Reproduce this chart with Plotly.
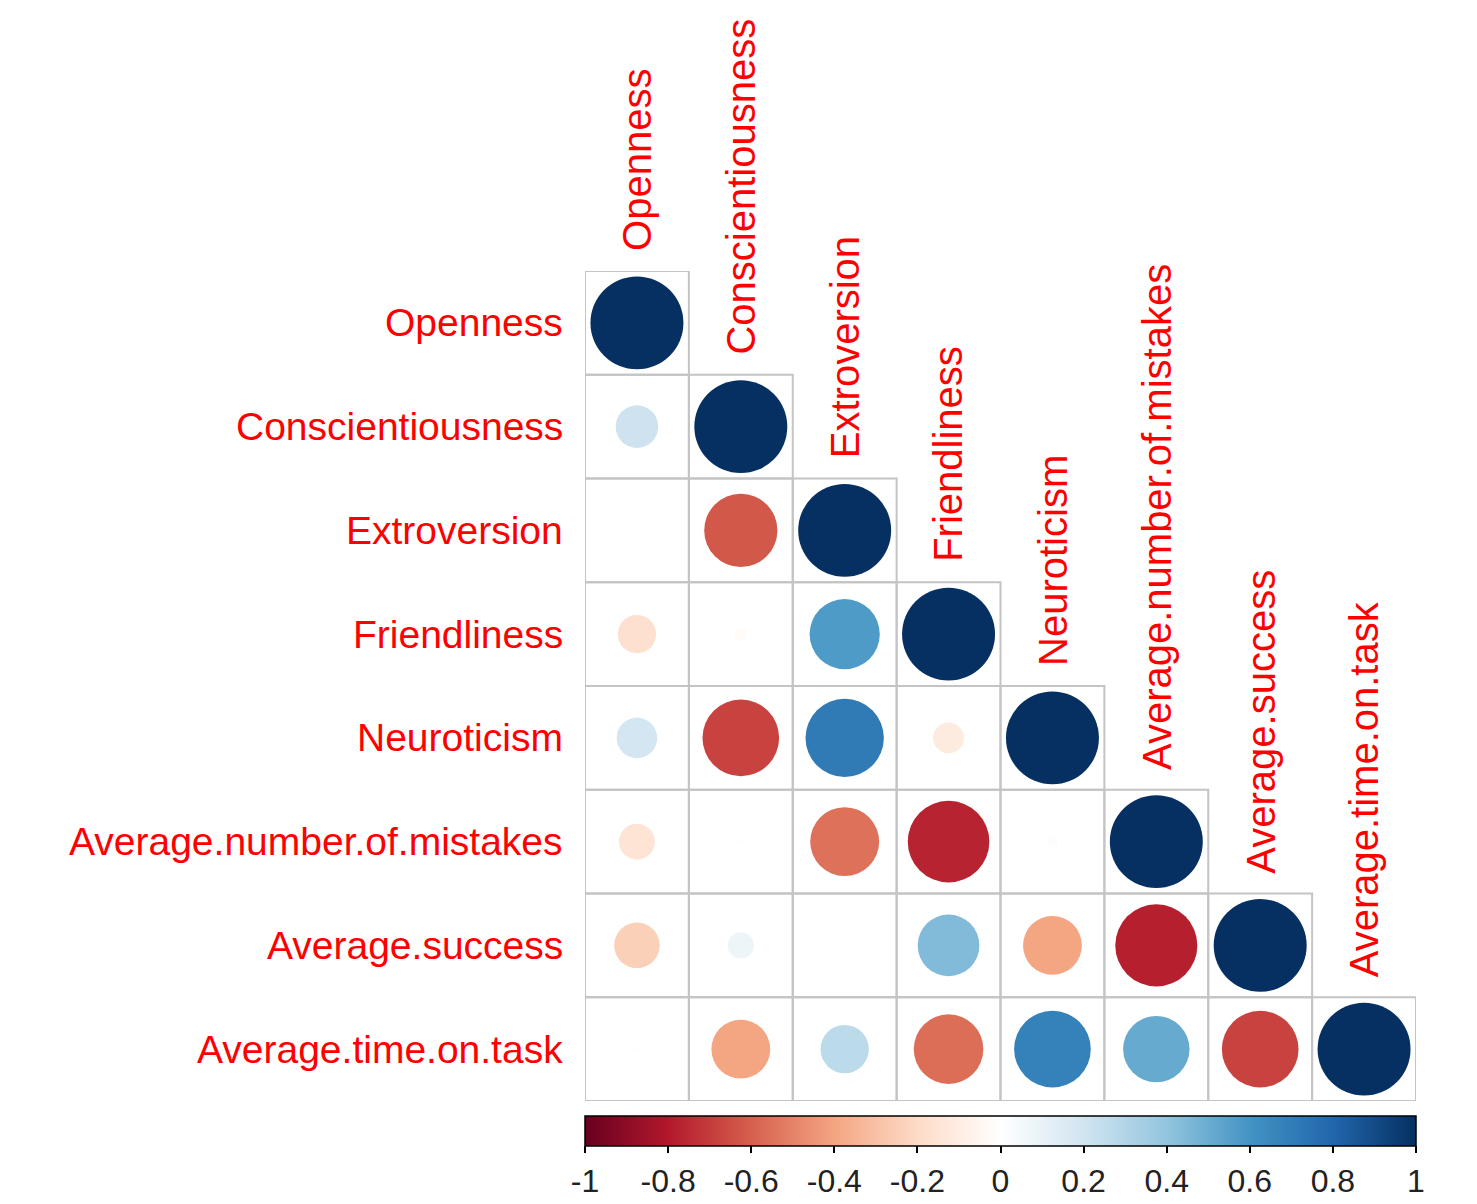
import plotly.graph_objects as go
import math

variables = ["Openness", "Conscientiousness", "Extroversion", "Friendliness",
             "Neuroticism", "Average.number.of.mistakes", "Average.success",
             "Average.time.on.task"]

# lower-triangle correlation values (row i, columns 0..i)
row_openness = [1.0]
row_conscientiousness = [0.21, 1.0]
row_extroversion = [-0.004, -0.62, 1.0]
row_friendliness = [-0.17, -0.02, 0.57, 1.0]
row_neuroticism = [0.19, -0.68, 0.71, -0.11, 1.0]
row_mistakes = [-0.15, -0.006, -0.55, -0.77, 0.016, 1.0]
row_success = [-0.24, 0.08, 0.003, 0.44, -0.40, -0.78, 1.0]
row_time = [-0.008, -0.40, 0.27, -0.56, 0.68, 0.51, -0.68, 1.0]
lower = [row_openness, row_conscientiousness, row_extroversion, row_friendliness,
         row_neuroticism, row_mistakes, row_success, row_time]

colorbar_ticks = [-1, -0.8, -0.6, -0.4, -0.2, 0, 0.2, 0.4, 0.6, 0.8, 1]
colorbar_ticktext = ["-1", "-0.8", "-0.6", "-0.4", "-0.2", "0", "0.2", "0.4", "0.6", "0.8", "1"]

rdbu = ["#67001F", "#B2182B", "#D6604D", "#F4A582", "#FDDBC7", "#FFFFFF",
        "#D1E5F0", "#92C5DE", "#4393C3", "#2166AC", "#053061"]
colorscale = [[i / (len(rdbu) - 1), c] for i, c in enumerate(rdbu)]

n = len(variables)
W, H = 1477, 1204
ml, mr, mt, mb = 585, 61, 271, 103
cell_px = (W - ml - mr) / n
max_diam = cell_px * 0.895

xs, ys, vals, sizes = [], [], [], []
for i, row in enumerate(lower):
    for j, v in enumerate(row):
        xs.append(j + 1)
        ys.append(i + 1)
        vals.append(v)
        sizes.append(max_diam * math.sqrt(abs(v)))

fig = go.Figure()

shapes = []
for i, row in enumerate(lower):
    for j, _ in enumerate(row):
        shapes.append(dict(type="rect", xref="x", yref="y",
                           x0=j + 0.5, x1=j + 1.5, y0=i + 0.5, y1=i + 1.5,
                           line=dict(color="#C4C4C4", width=2),
                           fillcolor="rgba(0,0,0,0)", layer="below"))

fig.add_trace(go.Scatter(
    x=xs, y=ys, mode="markers",
    marker=dict(size=sizes, color=vals, colorscale=colorscale, cmin=-1, cmax=1,
                line=dict(width=0), opacity=1,
                showscale=True,
                colorbar=dict(orientation="h", x=0.5, xanchor="center",
                              y=-15 / (H - mt - mb), yanchor="top",
                              len=1, lenmode="fraction", thickness=30,
                              outlinecolor="black", outlinewidth=1.5,
                              ticks="outside", ticklen=7, tickcolor="black",
                              tickwidth=2,
                              tickvals=colorbar_ticks, ticktext=colorbar_ticktext,
                              tickfont=dict(size=32, color="#222222",
                                            family="Liberation Sans, Arial"),
                              xpad=0, ypad=0)),
    hoverinfo="skip", showlegend=False))

annotations = []
for i, name in enumerate(variables):
    annotations.append(dict(x=0.5, y=i + 1, xref="x", yref="y", text=name,
                            showarrow=False, xanchor="right", yanchor="middle",
                            xshift=-20,
                            font=dict(size=39, color="#FF0000",
                                      family="Liberation Sans, Arial")))
    annotations.append(dict(x=i + 1, y=i + 0.5, xref="x", yref="y", text=name,
                            showarrow=False, xanchor="center", yanchor="bottom",
                            textangle=-90, yshift=18,
                            font=dict(size=40, color="#FF0000",
                                      family="Liberation Sans, Arial")))

fig.update_layout(
    width=W, height=H,
    margin=dict(l=ml, r=mr, t=mt, b=mb, autoexpand=False),
    paper_bgcolor="white", plot_bgcolor="white",
    xaxis=dict(range=[0.5, n + 0.5], visible=False, fixedrange=True),
    yaxis=dict(range=[n + 0.5, 0.5], visible=False, fixedrange=True),
    shapes=shapes, annotations=annotations,
)

fig.write_html("out.html")
